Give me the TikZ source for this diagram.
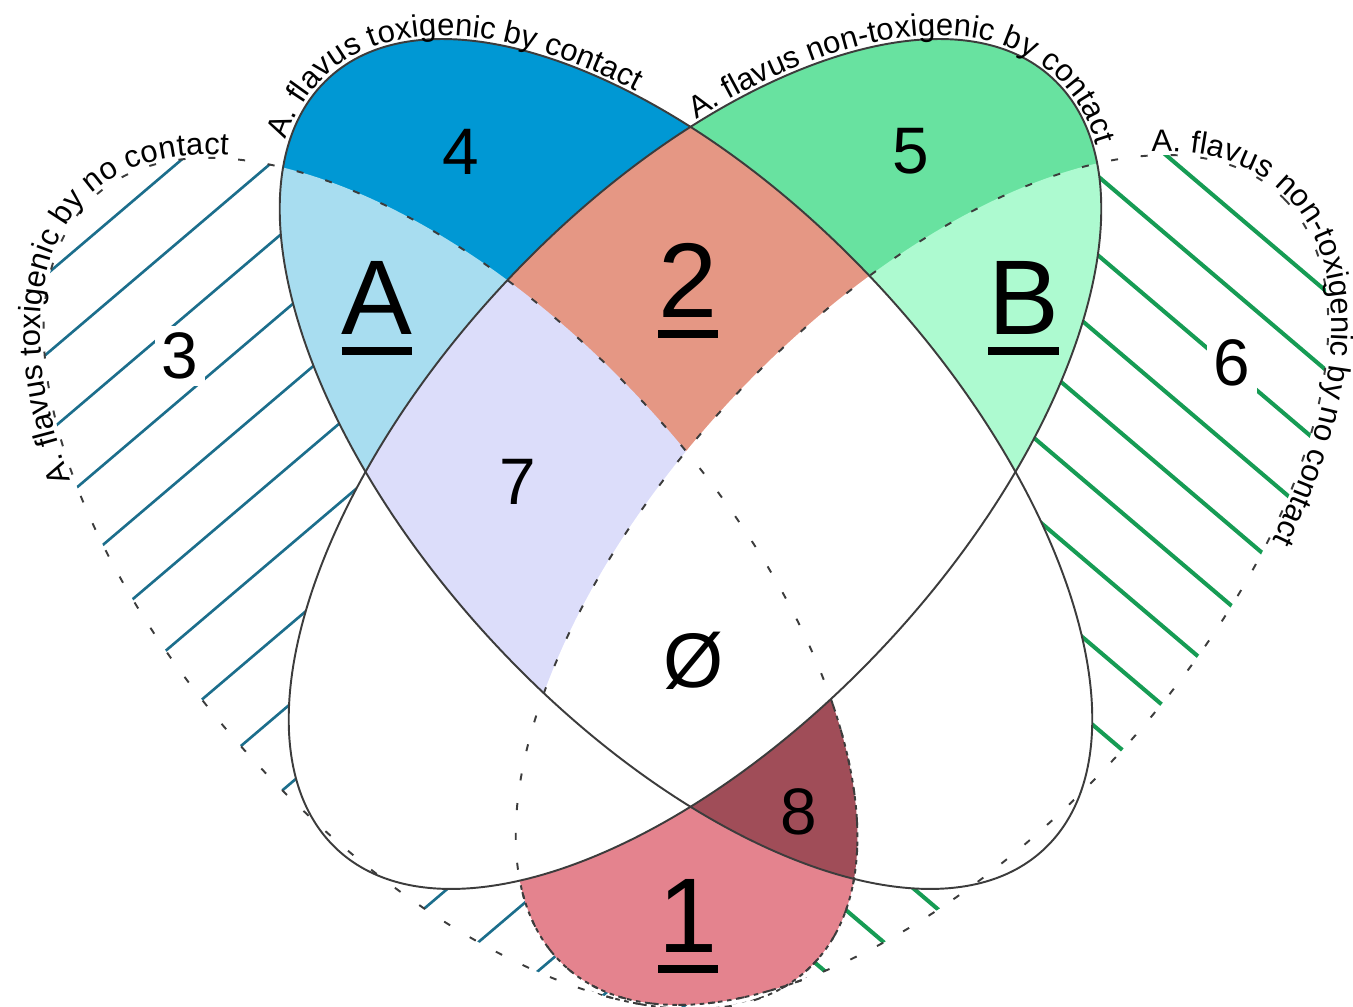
\documentclass[tikz,border=0pt]{standalone}
\usepackage{fontspec}
\setmainfont{Liberation Sans}
\usetikzlibrary{decorations.text}
\definecolor{cBlue}{RGB}{0,152,212}
\definecolor{cLBlue}{RGB}{168,221,240}
\definecolor{cSalmon}{RGB}{229,151,132}
\definecolor{cLav}{RGB}{220,221,250}
\definecolor{cGreen}{RGB}{104,226,160}
\definecolor{cLGreen}{RGB}{173,250,208}
\definecolor{cPink}{RGB}{228,131,142}
\definecolor{cMaroon}{RGB}{160,77,88}
\definecolor{cTeal}{RGB}{28,110,140}
\definecolor{cHGreen}{RGB}{22,156,84}
\definecolor{cLine}{RGB}{60,60,60}
\newcommand\myEll{(0,0) ellipse [x radius=5.135cm, y radius=2.5675cm]}
\newcommand\myEllDa{(0,0) ellipse [x radius=5.135cm, y radius=2.5875cm]}
\newcommand\myEllDb{(0,0) ellipse [x radius=5.135cm, y radius=2.5675cm]}
\newcommand\myEllDaBig{(0,0) ellipse [x radius=5.185cm, y radius=2.6375cm]}
\newcommand\myEllDbBig{(0,0) ellipse [x radius=5.185cm, y radius=2.6175cm]}
\newcommand\lblfont{\fontsize{8.8}{10}\selectfont}
\newcommand\myul[1]{\setbox0\hbox{#1}\rlap{\rule[-5.8pt]{\wd0}{2.3pt}}\box0}
\begin{document}
\begin{tikzpicture}[x=0.01cm,y=-0.01cm,
  geEa/.style={shift={(686,464)},yscale=1.046,rotate=-45},
  geEb/.style={shift={(695,464)},yscale=1.046,rotate=45},
  geDa/.style={shift={(450.5,583.5)},yscale=1.046,rotate=-45},
  geDb/.style={shift={(922,580)},yscale=1.046,rotate=45},
  outl/.style={draw=cLine, line width=0.55pt},
  dashl/.style={draw=cLine, line width=0.55pt, dash pattern=on 2pt off 6.5pt},
  dashd/.style={draw=cLine, line width=0.55pt, dash pattern=on 1.3pt off 1.3pt},
  hatchA/.style={cTeal, line width=0.75pt},
  hatchB/.style={cHGreen, line width=1.15pt},
  num/.style={font=\fontsize{18.7}{20}\selectfont, inner sep=0pt},
  big/.style={font=\fontsize{30.2}{32}\selectfont, inner sep=0pt, anchor=base},
  lbl/.style={decorate, decoration={text along path, text align=left, raise=1.1pt, text={|\lblfont|#1}}}
]
\useasboundingbox (0,0) rectangle (1353,1007);
% hatching of the no-contact-only regions
\begin{scope}
  \clip[geDa] \myEllDa;
  \foreach \n in {0,...,24} {
    \draw[hatchA] (-50,{314+79.6*\n+42.5}) -- (1450,{314+79.6*\n-1232.5});
  }
\end{scope}
\begin{scope}
  \clip[geDb] \myEllDb;
  \foreach \m in {-5,...,25} {
    \draw[hatchB] (-50,{-836+79*\m-42.5}) -- (1450,{-836+79*\m+1232.5});
  }
\end{scope}
% region 1
\begin{scope}
  \clip[geDa] \myEllDa;
  \fill[cPink, geDb] \myEllDb;
\end{scope}
% contact ellipses
\fill[cBlue, geEa] \myEll;
\fill[cGreen, geEb] \myEll;
\begin{scope}
  \clip[geEa] \myEll;
  \fill[cLBlue, geDa] \myEllDa;
  \fill[white] (0,472) rectangle (1353,1007);
  \clip[geDa] \myEllDa;
  \fill[cMaroon, geDb] \myEllDb;
\end{scope}
\begin{scope}
  \clip[geEb] \myEll;
  \fill[cLGreen, geDb] \myEllDb;
  \fill[white, geDa] \myEllDa;
  \fill[white] (0,472) rectangle (1353,1007);
\end{scope}
\begin{scope}
  \clip[geEa] \myEll;
  \clip[geEb] \myEll;
  \fill[cSalmon] (0,0) rectangle (1353,1007);
  \fill[cLav, geDa] \myEllDa;
  \fill[white, geDb] \myEllDb;
\end{scope}
% outlines
\path[dashl, geDa] \myEllDa;
\path[dashl, geDb] \myEllDb;
% denser dashes along the borders of regions 1 and 8
\begin{scope}
  \clip plot[domain=195:300, samples=80]
    ({695+0.7071*(513.5*cos(\x)-256.75*sin(\x))},{464-0.7396*(513.5*cos(\x)+256.75*sin(\x))})
    -- (1353,438) -- (1353,1100) -- (0,1100) -- (0,880) -- cycle;
  \clip[geDa] \myEllDaBig;
  \clip[geDb] \myEllDbBig;
  \path[dashd, geDa] \myEllDa;
  \path[dashd, geDb] \myEllDb;
\end{scope}
\path[outl, geEa] \myEll;
\path[outl, geEb] \myEll;
% set labels
\path[lbl={A. flavus toxigenic by contact}] plot[domain=194:90, samples=90]
  ({686+0.7071*(513.5*cos(\x)+256.75*sin(\x))},{464+0.7396*(513.5*cos(\x)-256.75*sin(\x))});
\path[lbl={A. flavus non-toxigenic by contact}] plot[domain=63:-50, samples=90]
  ({695+0.7071*(513.5*cos(\x)-256.75*sin(\x))},{464-0.7396*(513.5*cos(\x)+256.75*sin(\x))});
\path[lbl={A. flavus toxigenic by no contact}] plot[domain=229:110, samples=90]
  ({450.5+0.7071*(513.5*cos(\x)+258.75*sin(\x))},{583.5+0.7396*(513.5*cos(\x)-258.75*sin(\x))});
\path[lbl={A. flavus non-toxigenic by no contact}] plot[domain=29:-95, samples=90]
  ({922+0.7071*(513.5*cos(\x)-256.75*sin(\x))},{580-0.7396*(513.5*cos(\x)+256.75*sin(\x))});
% region numbers
\node[num, fill=white, inner sep=2pt] (n3) at (180,356) {3};
\node[num] (n4) at (461,152) {4};
\node[num] (n5) at (911,151) {5};
\node[num, fill=white, inner sep=2pt] (n6) at (1232,363) {6};
\node[num] (n7) at (518,482) {7};
\node[num] (n8) at (799,812) {8};
\node[font=\fontsize{22}{24}\selectfont, inner sep=0pt] (n0) at (694,661) {Ø};
\node[big] (nA) at (377,335) {\myul{A}};
\node[big] (nB) at (1023.5,335) {\myul{B}};
\node[big] (n2) at (688,318) {\myul{2}};
\node[big] (n1) at (688,953) {\myul{1}};
\end{tikzpicture}
\end{document}
